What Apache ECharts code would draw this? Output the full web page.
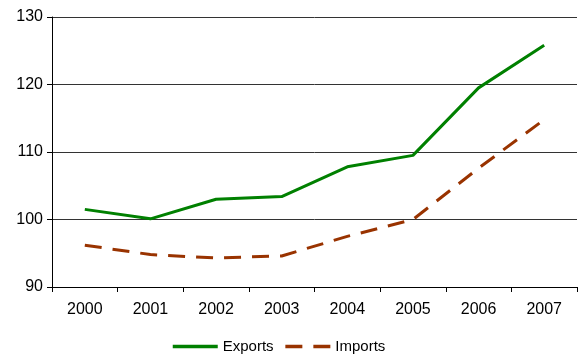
<!DOCTYPE html>
<html>
<head>
<meta charset="utf-8">
<title>Exports and Imports</title>
<script src="https://cdn.jsdelivr.net/npm/echarts@6/dist/echarts.min.js"></script>
</head>
<body style="margin:0;background:#fff;">
<div id="main" style="width:578px;height:355px;"></div>
<script type="text/javascript">
    var years = ["2000", "2001", "2002", "2003", "2004", "2005", "2006", "2007"];
    var exportsData = [101.5, 100.1, 103.0, 103.4, 107.8, 109.5, 119.5, 125.8];
    var importsData = [96.2, 94.8, 94.3, 94.6, 97.5, 100.0, 107.6, 114.8];

    var chart = echarts.init(document.getElementById('main'));
    chart.setOption({
        animation: false,
        grid: { left: 52, right: 1, top: 17, bottom: 68 },
        legend: {
            bottom: -4,
            left: 166,
            itemWidth: 45,
            itemHeight: 10,
            itemGap: 10,
            itemStyle: { opacity: 0 },
            lineStyle: { width: 3.5 },
            textStyle: { fontFamily: 'Liberation Sans', fontSize: 15, color: '#000' },
            data: ['Exports', 'Imports']
        },
        xAxis: {
            type: 'category',
            data: years,
            boundaryGap: true,
            axisLine: { lineStyle: { color: '#000', width: 1 } },
            axisTick: { show: true, length: 5, inside: false, lineStyle: { color: '#000' } },
            axisLabel: { fontFamily: 'Liberation Sans', fontSize: 16, color: '#000', margin: 15 }
        },
        yAxis: {
            type: 'value',
            min: 90,
            max: 130,
            interval: 10,
            axisLine: { show: true, lineStyle: { color: '#000', width: 1 } },
            axisTick: { show: true, length: 5, lineStyle: { color: '#000' } },
            axisLabel: { fontFamily: 'Liberation Sans', fontSize: 16, color: '#000', margin: 9 },
            splitLine: { show: true, lineStyle: { color: '#333', width: 1 } }
        },
        series: [
            {
                name: 'Exports',
                type: 'line',
                data: exportsData,
                symbol: 'none',
                lineStyle: { color: '#008000', width: 3 },
                itemStyle: { color: '#008000' }
            },
            {
                name: 'Imports',
                type: 'line',
                data: importsData,
                symbol: 'none',
                lineStyle: { color: '#993300', width: 3, type: [17, 11] },
                itemStyle: { color: '#993300' }
            }
        ]
    });
</script>
</body>
</html>
